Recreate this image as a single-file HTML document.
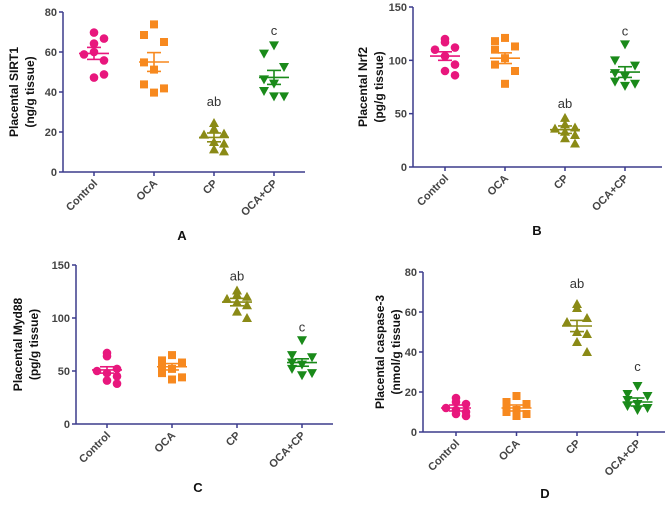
<!DOCTYPE html>
<html><head><meta charset="utf-8"><style>
body{margin:0;background:#fff;}
svg{display:block;font-family:"Liberation Sans",sans-serif;}
</style></head><body>
<svg id="fig" width="669" height="505" viewBox="0 0 669 505"></svg>
<script>
const categories = ["Control","OCA","CP","OCA+CP"];
const valsA = [[69.7,64.2,66.7,58.8,60,55.8,47.2,48.8],[73.8,68.5,65,54.8,51.2,43.8,41.8,39.7],[24.5,21.7,19.2,18.7,15,14.2,11.3,10.3],[63.3,59.2,52.5,46.3,44.2,40.5,37.8,37.8]];
const meanA = [59.3,55,17.3,47.3];
const semA = [3,4.7,2.2,3.5];
const valsB = [[120,117,112,110,104,96,90,86],[121,118,113,110,102,96,90,78],[46,40,37,36,33,30,27,22],[115,100,95,88,85,80,78,76]];
const meanB = [104,102,35,89];
const semB = [4,5,3.5,5];
const valsC = [[67,64,52,50,48,45,41,38],[65,60,58,55,52,48,44,42],[126,122,120,118,115,112,106,100],[79,65,63,58,56,52,48,46]];
const meanC = [51,54,115,58];
const semC = [3,3,3.5,3.5];
const valsD = [[17,15,14,12,11,10,9,8],[18,15,14,13,11,10,9,8],[64,62,57,55,50,49,45,40],[23,19,18,16,14,13,12,11]];
const meanD = [12,12,53,15];
const semD = [1.5,1.5,2.8,2];
const ticksA = [0,20,40,60,80];
const ticksB = [0,50,100,150];
const ticksC = [0,50,100,150];
const ticksD = [0,20,40,60,80];
const lettersA = [null,null,"ab","c"], lettersAv=[0,0,35.5,71];
const lettersB = [null,null,"ab","c"], lettersBv=[0,0,60,128];
const lettersC = [null,null,"ab","c"], lettersCv=[0,0,140,92];
const lettersD = [null,null,"ab","c"], lettersDv=[0,0,74.5,33];

const NS="http://www.w3.org/2000/svg";
const svg=document.getElementById("fig");
const colors=["#e8177d","#f7891f","#8a8a16","#1a8a1a"];
const jit=[0,0,1,-1,0,1,0,1];
const jit2=[0,-1,1,-1,0,-1,1,0];
function mk(tag,attrs,parent){const e=document.createElementNS(NS,tag);for(const k in attrs)e.setAttribute(k,attrs[k]);(parent||svg).appendChild(e);return e;}

function panel(p){
  const g=mk("g",{});
  
  
  const ys=v=>p.y0-(v/p.max)*(p.y0-p.y1);
  const xs=i=>p.cx0+i*p.step;
  const ax=mk("line",{x1:p.ax,y1:p.y1,x2:p.ax,y2:p.y0,stroke:"#3b3b8c","stroke-width":1.5},g);
  
  
  const xa=mk("line",{x1:p.ax,y1:p.y0,x2:p.xend,y2:p.y0,stroke:"#3b3b8c","stroke-width":1.5},g);
  
  
  p.ticks.forEach(t=>{
    mk("line",{x1:p.ax-4,y1:ys(t),x2:p.ax,y2:ys(t),stroke:"#3b3b8c","stroke-width":1.5},g);
    const tx=mk("text",{x:p.ax-6,y:ys(t)+4,"text-anchor":"end","font-size":11,"font-weight":"bold",fill:"#444"},g);
    tx.textContent=t;
    
    
  });
  categories.forEach((c,i)=>{
    const x=xs(i);
    mk("line",{x1:x,y1:p.y0,x2:x,y2:p.y0+4,stroke:"#3b3b8c","stroke-width":1.5},g);
    const tx=mk("text",{x:x+4,y:p.y0+12,"text-anchor":"end","font-size":11,"font-weight":"bold",fill:"#444",transform:`rotate(-45 ${x+4} ${p.y0+12})`},g);
    tx.textContent=c;
    
    
    const col=colors[i];
    p.vals[i].forEach((v,k)=>{
      const px=x+(i%2?jit2[k]:jit[k])*10, py=ys(v);
      let m;
      if(i==0) m=mk("circle",{cx:px,cy:py,r:4.3,fill:col},g);
      else if(i==1) m=mk("rect",{x:px-4,y:py-4,width:8,height:8,fill:col},g);
      else if(i==2) m=mk("polygon",{points:`${px},${py-5} ${px-5},${py+4} ${px+5},${py+4}`,fill:col},g);
      else m=mk("polygon",{points:`${px},${py+5} ${px-5},${py-4} ${px+5},${py-4}`,fill:col},g);
      
      
    });
    const mean=p.mean[i], s=p.sem[i];
    const ml=mk("line",{x1:x-15,y1:ys(mean),x2:x+15,y2:ys(mean),stroke:col,"stroke-width":1.6},g);
    
    
    mk("line",{x1:x,y1:ys(mean+s),x2:x,y2:ys(mean-s),stroke:col,"stroke-width":1.6},g);
    mk("line",{x1:x-7,y1:ys(mean+s),x2:x+7,y2:ys(mean+s),stroke:col,"stroke-width":1.6},g);
    mk("line",{x1:x-7,y1:ys(mean-s),x2:x+7,y2:ys(mean-s),stroke:col,"stroke-width":1.6},g);
    if(p.letters[i]){
      const lt=mk("text",{x:x,y:ys(p.lettersV[i])+5,"text-anchor":"middle","font-size":13,fill:"#333"},g);
      lt.textContent=p.letters[i];
      
      
    }
  });
  const cy=(p.y0+p.y1)/2;
  const tt=mk("text",{x:0,y:0,"text-anchor":"middle","font-size":12,"font-weight":"bold",fill:"#111",transform:`translate(${p.tx} ${cy}) rotate(-90)`},g);
  const t1=mk("tspan",{x:0,dy:0},tt);t1.textContent=p.title[0];
  const t2=mk("tspan",{x:0,dy:16},tt);t2.textContent=p.title[1];
  
  
  const pl=mk("text",{x:p.lx,y:p.ly+5,"text-anchor":"middle","font-size":13,"font-weight":"bold",fill:"#111"},g);
  pl.textContent=p.label;
  
  
}
panel({name:"panel-a-sirt1",ax:63,y0:172,y1:12,max:80,xend:305,cx0:94,step:60,vals:valsA,mean:meanA,sem:semA,ticks:ticksA,letters:lettersA,lettersV:lettersAv,title:["Placental SIRT1","(ng/g tissue)"],tx:18,label:"A",lx:182,ly:235});
panel({name:"panel-b-nrf2",ax:413,y0:167,y1:7,max:150,xend:662,cx0:445,step:60,vals:valsB,mean:meanB,sem:semB,ticks:ticksB,letters:lettersB,lettersV:lettersBv,title:["Placental Nrf2","(pg/g tissue)"],tx:367,label:"B",lx:537,ly:230});
panel({name:"panel-c-myd88",ax:76,y0:424,y1:265,max:150,xend:333,cx0:107,step:65,vals:valsC,mean:meanC,sem:semC,ticks:ticksC,letters:lettersC,lettersV:lettersCv,title:["Placental Myd88","(pg/g tissue)"],tx:22,label:"C",lx:198,ly:487});
panel({name:"panel-d-caspase3",ax:423,y0:432,y1:272,max:80,xend:665,cx0:456,step:60.5,vals:valsD,mean:meanD,sem:semD,ticks:ticksD,letters:lettersD,lettersV:lettersDv,title:["Placental caspase-3","(nmol/g tissue)"],tx:384,label:"D",lx:545,ly:493});
</script>
</body></html>
